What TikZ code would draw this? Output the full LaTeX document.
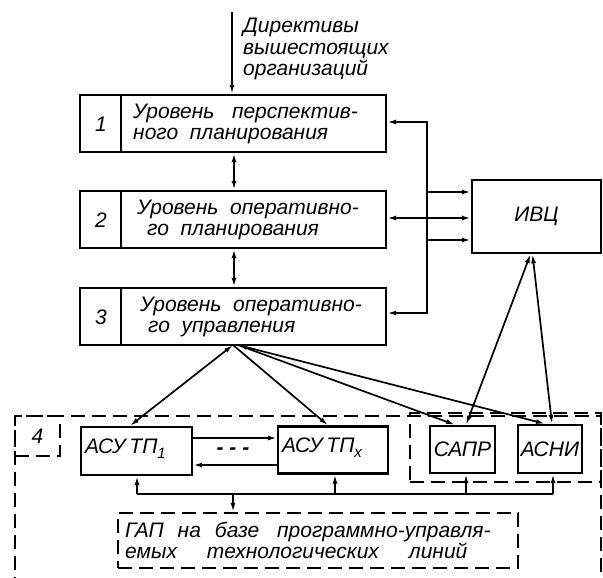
\documentclass[tikz,border=0pt]{standalone}
\usepackage{fontspec}
\setmainfont{Liberation Sans}
\usetikzlibrary{arrows.meta}
\newcommand{\lowsub}[1]{\raisebox{-5pt}{\fontsize{15}{15}\selectfont #1}}
\begin{document}
\begin{tikzpicture}[x=1pt,y=-1pt,
  every node/.style={font=\fontsize{21}{21.5}\selectfont\itshape},
  blk/.style={draw,line width=2.4pt,rectangle,inner sep=0pt},
  dblk/.style={draw,line width=2.2pt,dash pattern=on 14pt off 7pt,rectangle,inner sep=0pt},
  conn/.style={line width=1.7pt},
  tip/.style={-{Latex[length=9pt,width=5pt]}},
  dtip/.style={{Latex[length=9pt,width=5pt]}-{Latex[length=9pt,width=5pt]}},
  txt/.style={align=left,inner sep=0pt,anchor=west}
]
\useasboundingbox (0,0) rectangle (603,578);
% level boxes
\node[blk,minimum width=306pt,minimum height=57pt] (b1) at (233,123.5) {};
\node[blk,minimum width=306pt,minimum height=57pt] (b2) at (233,219.5) {};
\node[blk,minimum width=306pt,minimum height=57pt] (b3) at (233,316.5) {};
\draw[line width=2.4pt] ([xshift=42pt]b1.north west) -- ([xshift=42pt]b1.south west);
\draw[line width=2.4pt] ([xshift=42pt]b2.north west) -- ([xshift=42pt]b2.south west);
\draw[line width=2.4pt] ([xshift=42pt]b3.north west) -- ([xshift=42pt]b3.south west);
\node (n1) at (101,124) {1};
\node (n2) at (101,220) {2};
\node (n3) at (101,317) {3};
\node[txt] (t1) at (133,124) {Уровень\ \ \ перспектив-\\ного\ \ планирования};
\node[txt] (t2) at (137,220) {Уровень\ \ оперативно-\\\hspace*{10pt}го\ \ планирования};
\node[txt] (t3) at (140,317) {Уровень\ \ оперативно-\\\hspace*{8pt}го\ \ управления};
% directive text
\coordinate (top) at (232,12);
\node[txt,anchor=north west] (dir) at (243,18) {Директивы\\вышестоящих\\организаций};
% IVC
\node[blk,minimum width=129pt,minimum height=73pt] (ivc) at (536.5,216.5) {ИВЦ};
% lower boxes
\node[dblk,minimum width=586pt,minimum height=200pt] (outer) at (308,516) {};
\node[dblk,minimum width=45pt,minimum height=40pt] (four) at (37.5,436) {4};
\node[dblk,minimum width=191pt,minimum height=69pt] (inner) at (505.5,447.5) {};
\node[blk,minimum width=111pt,minimum height=48pt] (a1) at (136.5,451) {};
\node[anchor=west,inner sep=0pt] (a1t) at (85,449) {АСУ\hspace{4pt}ТП\lowsub{1}};
\node[blk,minimum width=110pt,minimum height=47pt] (ax) at (333,450) {};
\node[anchor=west,inner sep=0pt] (axt) at (282,448) {АСУ\hspace{4pt}ТП\lowsub{x}};
\node[blk,minimum width=65pt,minimum height=47pt] (sapr) at (462.5,449.5) {САПР};
\node[blk,minimum width=64pt,minimum height=48pt] (asni) at (550,449) {АСНИ};
\node[dblk,minimum width=400pt,minimum height=55pt] (gap) at (318,540.5) {};
\node[txt] (gapt) at (125,540.5) {ГАП\hspace{14pt}на\hspace{14pt}базе\hspace{18pt}программно-управля-\\емых\hspace{30pt}технологических\hspace{30pt}линий};
\node (dots) at (233,451) {\textbf{- - -}};
% connectors
\draw[conn,tip] (top) -- (b1.north -| top);
\draw[conn,dtip] ([xshift=1pt]b1.south) -- ([xshift=1pt]b2.north);
\draw[conn,dtip] ([xshift=1pt]b2.south) -- ([xshift=1pt]b3.north);
\coordinate (c1) at (427,122);
\coordinate (c3) at (427,313);
\draw[conn,dtip] (b1.east |- c1) -- (c1) |- ([yshift=-23.5pt]ivc.west);
\draw[conn,dtip] (b2.east |- 0,218) -- (ivc.west |- 0,218);
\draw[conn,dtip] (b3.east |- c3) -- (c3) |- ([yshift=24.5pt]ivc.west);
\draw[conn,dtip] ([xshift=-6pt]ivc.south) -- (sapr.north -| 466,0);
\draw[conn,dtip] ([xshift=-4pt]ivc.south) -- (asni.north -| 552,0);
\coordinate (f1) at (233,345);
\coordinate (f2) at (238,345);
\draw[conn,dtip] (f1) -- (a1.north -| 130,0);
\draw[conn,tip] (f1) -- (ax.north -| 328,0);
\draw[conn,tip] (f2) -- (sapr.north -| 455,0);
\draw[conn,dtip] (f2) -- (asni.north -| 545,0);
\draw[conn,tip] (a1.east |- 0,438) -- (ax.west |- 0,438);
\draw[conn,tip] (ax.west |- 0,465) -- (a1.east |- 0,465);
\coordinate (busL) at (137,494);
\coordinate (busR) at (553,494);
\draw[conn] (busL) -- (busR);
\draw[conn,tip] (busL) -- (a1.south -| busL);
\draw[conn,tip] (335,494) -- (ax.south -| 335,0);
\draw[conn,tip] (466,494) -- (sapr.south -| 466,0);
\draw[conn,tip] (busR) -- (asni.south -| busR);
\draw[conn,tip] (233,494) -- (gap.north -| 233,0);
\end{tikzpicture}
\end{document}
